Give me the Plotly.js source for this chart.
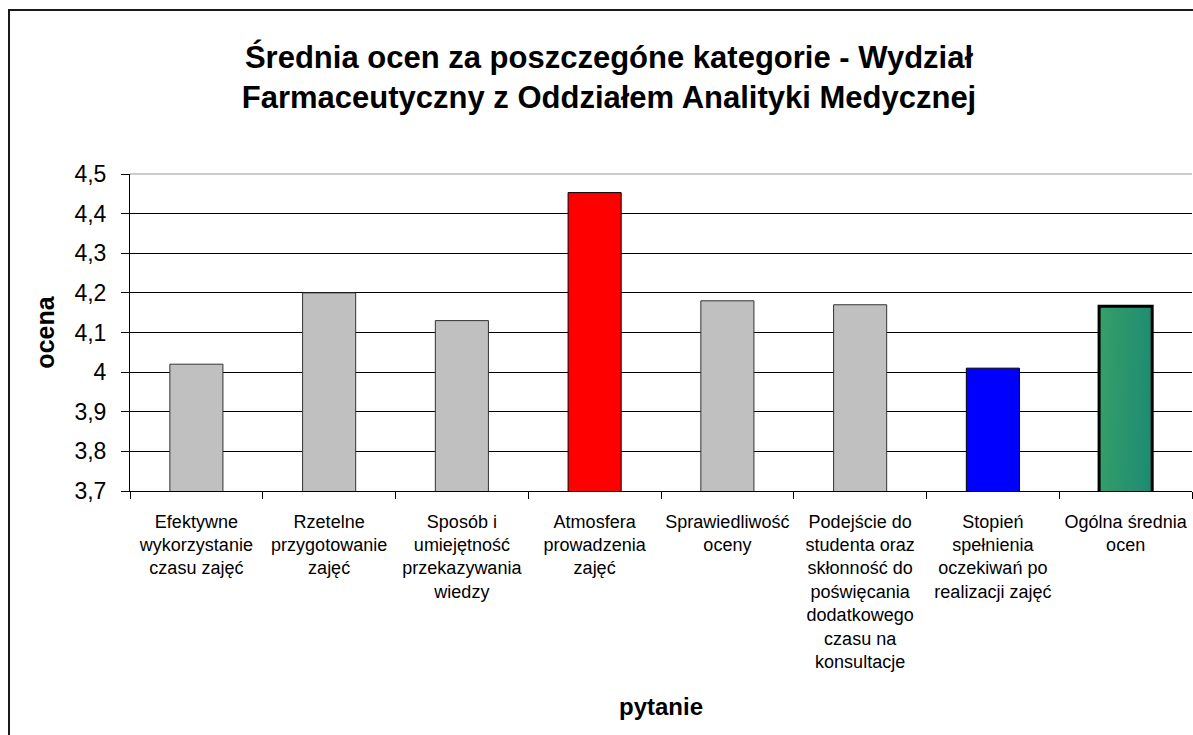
<!DOCTYPE html>
<html>
<head>
<meta charset="utf-8">
<script src="https://cdn.plot.ly/plotly-3.0.1.min.js"></script>
<style>
  html, body { margin: 0; padding: 0; background: #fff; overflow: hidden; }
  #chart { position: absolute; left: 0; top: 0; width: 1193px; height: 735px; }
  #frame { position: absolute; left: 8px; top: 9px; width: 1300px; height: 800px;
           border-left: 2px solid #1a1a1a; border-top: 2px solid #1a1a1a; pointer-events: none; }
</style>
</head>
<body>
<div id="chart"></div>
<div id="frame"></div>
<script>
const categories = [
  "Efektywne<br>wykorzystanie<br>czasu zajęć",
  "Rzetelne<br>przygotowanie<br>zajęć",
  "Sposób i<br>umiejętność<br>przekazywania<br>wiedzy",
  "Atmosfera<br>prowadzenia<br>zajęć",
  "Sprawiedliwość<br>oceny",
  "Podejście do<br>studenta oraz<br>skłonność do<br>poświęcania<br>dodatkowego<br>czasu na<br>konsultacje",
  "Stopień<br>spełnienia<br>oczekiwań po<br>realizacji zajęć",
  "Ogólna średnia<br>ocen"
];
const values = [4.02, 4.20, 4.13, 4.453, 4.18, 4.17, 4.01, 4.166];
const barColors = ["#C0C0C0", "#C0C0C0", "#C0C0C0", "#FF0000", "#C0C0C0", "#C0C0C0", "#0000FF", "#228F70"];
const barLineColors = ["#333333", "#333333", "#333333", "#000000", "#333333", "#333333", "#000000", "#000000"];
const barLineWidths = [1, 1, 1, 1, 1, 1, 1, 3];

const titleText = "Średnia ocen za poszczegóne kategorie - Wydział<br>Farmaceutyczny z Oddziałem Analityki Medycznej";
const font = "Liberation Sans, Arial, sans-serif";

const data = [{
  type: "bar",
  x: categories,
  y: values,
  marker: { color: barColors, line: { color: barLineColors, width: barLineWidths } },
  hoverinfo: "x+y"
}];

const layout = {
  width: 1193, height: 735,
  paper_bgcolor: "#fff", plot_bgcolor: "#fff",
  separators: ", ",
  margin: { l: 130, r: 1, t: 174, b: 244, autoexpand: false },
  bargap: 0.6,
  showlegend: false,
  font: { family: font, color: "#000" },
  title: {
    text: titleText,
    font: { family: font, size: 31, color: "#000", weight: "bold" },
    x: 609 / 1193, xanchor: "center", xref: "container",
    y: 1 - 68 / 735, yanchor: "middle", yref: "container"
  },
  xaxis: {
    type: "category",
    showline: true, linecolor: "#000", linewidth: 1,
    ticks: "outside", ticklen: 7, tickcolor: "#000", tickson: "boundaries",
    tickfont: { family: font, size: 18, color: "#000" },
    tickangle: 0,
    ticklabelstandoff: 14,
    showgrid: false,
    title: { text: "pytanie", font: { family: font, size: 24, weight: "bold", color: "#000" }, standoff: 27 }
  },
  yaxis: {
    range: [3.7, 4.5], dtick: 0.1, tick0: 3.7,
    showline: true, linecolor: "#000", linewidth: 1,
    ticks: "outside", ticklen: 8, tickcolor: "#000",
    tickfont: { family: font, size: 23, color: "#000" },
    ticklabelstandoff: 10,
    showgrid: true, gridcolor: "#000", gridwidth: 1,
    zeroline: false,
    title: { text: "ocena", font: { family: font, size: 25, weight: "bold", color: "#000" }, standoff: 12 }
  },
  shapes: [{
    type: "line", xref: "paper", yref: "paper", x0: 0, x1: 1, y0: 1, y1: 1,
    line: { color: "#cccccc", width: 2 }, layer: "above"
  }]
};

Plotly.newPlot("chart", data, layout, { staticPlot: true }).then(function (gd) {
  const svg = gd.querySelector("svg.main-svg");
  const ns = "http://www.w3.org/2000/svg";
  let defs = svg.querySelector("defs");
  if (!defs) { defs = document.createElementNS(ns, "defs"); svg.insertBefore(defs, svg.firstChild); }
  const grad = document.createElementNS(ns, "linearGradient");
  grad.setAttribute("id", "lastBarGrad");
  grad.setAttribute("x1", "0"); grad.setAttribute("y1", "0");
  grad.setAttribute("x2", "1"); grad.setAttribute("y2", "1");
  [["0", "#379F68"], ["1", "#067A7C"]].forEach(function (s) {
    const st = document.createElementNS(ns, "stop");
    st.setAttribute("offset", s[0]); st.setAttribute("stop-color", s[1]);
    grad.appendChild(st);
  });
  defs.appendChild(grad);
  const paths = gd.querySelectorAll(".bars .point path");
  const last = paths[paths.length - 1];
  if (last) last.style.fill = "url(#lastBarGrad)";
});
</script>
</body>
</html>
